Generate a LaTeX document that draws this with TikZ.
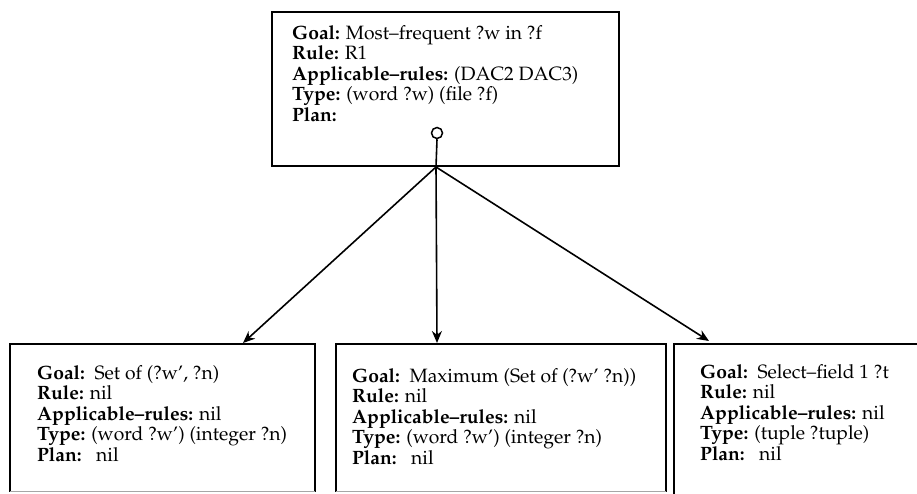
\documentclass[tikz,border=0pt]{standalone}
\usepackage[T1]{fontenc}
\usepackage{mathpazo}
\usetikzlibrary{arrows.meta}

\tikzset{
  frame/.style={line width=2pt, line cap=rect},
  faint/.style={line width=0.6pt, draw=black!35},
  link/.style={line width=1.6pt, -{Stealth[length=12pt,width=10pt]}},
  stem/.style={line width=1.6pt},
  slots/.style={anchor=north west, inner sep=0pt, align=left,
    font=\fontsize{19.3}{20.6}\selectfont},
  holder/.style={draw=none, inner sep=0pt, anchor=north west}
}

\begin{document}
\begin{tikzpicture}[x=1pt,y=-1pt]
  \useasboundingbox (0,0) rectangle (917,493);

  % parent goal node
  \node[holder, minimum width=347pt, minimum height=154pt] (top) at (272,12) {};
  \draw[frame] (top.north west) rectangle (top.south east);
  \node[slots] (toptext) at (292,25) {%
    \textbf{Goal:} Most--frequent ?w in ?f\\
    \textbf{Rule:} R1\\
    \textbf{Applicable--rules:} (DAC2 DAC3)\\
    \textbf{Type:} (word ?w) (file ?f)\\
    \textbf{Plan:}};
  \node[circle, draw, line width=1.5pt, minimum size=11pt, inner sep=0pt] (plan) at (437,133) {};
  \coordinate (junc) at (436,167);

  % child goal nodes
  \node[holder, minimum width=305pt, minimum height=147pt] (left) at (10,344) {};
  \draw[frame] (left.south west) -- (left.north west) -- (left.north east) -- (left.south east);
  \draw[faint] (left.south west) -- (left.south east);
  \node[slots] (lefttext) at (37,365) {%
    \textbf{Goal:}\ \ Set of (?w', ?n)\\
    \textbf{Rule:} nil\\
    \textbf{Applicable--rules:} nil\\
    \textbf{Type:} (word ?w') (integer ?n)\\
    \textbf{Plan:}\ \ \ nil};

  \node[holder, minimum width=330pt, minimum height=147pt] (mid) at (336,344) {};
  \draw[frame] (mid.south west) -- (mid.north west) -- (mid.north east) -- (mid.south east);
  \draw[faint] (mid.south west) -- (mid.south east);
  \node[slots] (midtext) at (352,368) {%
    \textbf{Goal:}\ \ Maximum (Set of (?w' ?n))\\
    \textbf{Rule:} nil\\
    \textbf{Applicable--rules:} nil\\
    \textbf{Type:} (word ?w') (integer ?n)\\
    \textbf{Plan:}\ \ \ nil};

  \node[holder, minimum width=243pt, minimum height=149pt] (right) at (674,344) {};
  \draw[frame] (right.south west) -- (right.north west) -- (right.north east);
  \node[slots] (righttext) at (700,364) {%
    \textbf{Goal:}\ \ Select--field 1 ?t\\
    \textbf{Rule:} nil\\
    \textbf{Applicable--rules:} nil\\
    \textbf{Type:} (tuple ?tuple)\\
    \textbf{Plan:}\ \ \ nil};

  % decomposition links
  \coordinate (ltip) at (243,343);
  \coordinate (mtip) at (437,343);
  \coordinate (rtip) at (709,341);
  \draw[stem] (plan.south) -- (junc);
  \draw[link] (junc) -- (ltip);
  \draw[link] (junc) -- (mtip);
  \draw[link] (junc) -- (rtip);
\end{tikzpicture}
\end{document}
